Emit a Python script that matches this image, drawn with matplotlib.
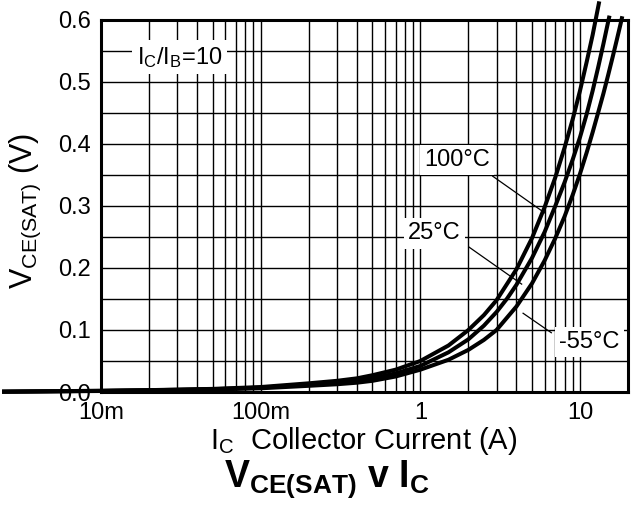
import matplotlib
matplotlib.use('Agg')
import matplotlib.pyplot as plt
from matplotlib.ticker import FixedLocator, NullFormatter, MultipleLocator, FixedFormatter

plt.rcParams['font.family'] = ['Liberation Sans', 'DejaVu Sans']
plt.rcParams['mathtext.fontset'] = 'custom'
plt.rcParams['mathtext.rm'] = 'Liberation Sans'
plt.rcParams['mathtext.it'] = 'Liberation Sans'
plt.rcParams['mathtext.bf'] = 'Liberation Sans:bold'

# collector current (A) and V_CE(sat) (V)
ic_100 = [0.0024, 0.01, 0.02, 0.05, 0.1, 0.2, 0.3, 0.4, 0.5, 0.7, 1, 1.5, 2, 2.5, 3, 4, 5, 6,
          7, 8, 9, 10, 11, 12, 13.2]
vce_100 = [0.0005, 0.002, 0.003, 0.005, 0.008, 0.014, 0.018, 0.022, 0.027, 0.036, 0.050, 0.075,
           0.100, 0.124, 0.148, 0.198, 0.248, 0.298, 0.346, 0.394, 0.440, 0.486, 0.532, 0.576,
           0.630]

ic_25 = [0.0024, 0.01, 0.02, 0.05, 0.1, 0.2, 0.3, 0.4, 0.5, 0.7, 1, 1.5, 2, 2.5, 3, 3.5, 4, 5,
         6, 7, 8, 9, 10, 11, 12, 13, 14, 15, 15.3]
vce_25 = [0.0005, 0.0018, 0.0028, 0.0045, 0.007, 0.012, 0.015, 0.018, 0.022, 0.030, 0.042,
          0.064, 0.085, 0.107, 0.129, 0.151, 0.173, 0.216, 0.258, 0.300, 0.338, 0.375, 0.411,
          0.448, 0.486, 0.524, 0.561, 0.597, 0.607]

ic_m55 = [0.0024, 0.01, 0.02, 0.05, 0.1, 0.2, 0.3, 0.4, 0.5, 0.7, 1, 1.5, 2, 2.5, 3, 4, 5, 6,
          7, 8, 9, 10, 11, 12, 13, 14, 15, 16, 17, 18, 18.4]
vce_m55 = [0.0005, 0.0016, 0.0025, 0.004, 0.006, 0.010, 0.0125, 0.015, 0.018, 0.025, 0.036,
           0.052, 0.068, 0.084, 0.100, 0.138, 0.175, 0.212, 0.248, 0.283, 0.318, 0.352, 0.386,
           0.419, 0.451, 0.481, 0.511, 0.540, 0.568, 0.595, 0.606]

x_ticks = [0.01, 0.1, 1, 10]
x_tick_labels = ['10m', '100m', '1', '10']
y_ticks = [0.0, 0.1, 0.2, 0.3, 0.4, 0.5, 0.6]

fig = plt.figure(figsize=(6.37, 5.19), dpi=100)
ax = fig.add_axes([0.1586, 0.2447, 0.8274, 0.7168])

for ic, vce in [(ic_100, vce_100), (ic_25, vce_25), (ic_m55, vce_m55)]:
    ax.plot(ic, vce, color='black', lw=2.9, clip_on=False, zorder=4, solid_capstyle='butt')

ax.set_xscale('log')
ax.set_xlim(0.01, 20)
ax.set_ylim(0, 0.6)

ax.xaxis.set_major_locator(FixedLocator(x_ticks))
ax.xaxis.set_major_formatter(FixedFormatter(x_tick_labels))
ax.xaxis.set_minor_locator(FixedLocator([m * d for d in [0.01, 0.1, 1, 10] for m in range(2, 10)]))
ax.xaxis.set_minor_formatter(NullFormatter())
ax.yaxis.set_major_locator(FixedLocator(y_ticks))
ax.yaxis.set_major_formatter(FixedFormatter(['%.1f' % v for v in y_ticks]))
ax.yaxis.set_minor_locator(MultipleLocator(0.05))

ax.grid(True, which='both', color='black', lw=1.0)
ax.set_axisbelow(True)
ax.tick_params(which='both', length=0, labelsize=17)
ax.tick_params(axis='y', pad=7)
ax.tick_params(axis='x', pad=7)
for s in ax.spines.values():
    s.set_linewidth(2.2)

fig.text(0.040, 0.593, '$\\mathregular{V_{CE(SAT)}}$ (V)', fontsize=22, rotation=90,
         ha='center', va='center')

box = dict(facecolor='white', edgecolor='none', pad=3)
ax.text(0.031, 0.540, '$\\mathregular{I_C/I_B}$=10', fontsize=17, ha='center', va='center',
        bbox=box, zorder=5)
ax.text(1.70, 0.374, '100°C', fontsize=17, ha='center', va='center', bbox=box, zorder=5)
ax.text(1.22, 0.256, '25°C', fontsize=17, ha='center', va='center', bbox=box, zorder=5)
ax.text(11.4, 0.081, '-55°C', fontsize=17, ha='center', va='center', bbox=box, zorder=5)

ax.plot([2.84, 6.0], [0.348, 0.289], color='black', lw=0.9, zorder=3)
ax.plot([2.01, 4.31], [0.234, 0.174], color='black', lw=0.9, zorder=3)
ax.plot([6.61, 4.40], [0.0956, 0.127], color='black', lw=0.9, zorder=3)

fig.text(0.571, 0.151, '$\\mathregular{I_C}$  Collector Current (A)', fontsize=21,
         ha='center', va='center')
fig.text(0.513, 0.076, '$\\mathbf{V_{CE(SAT)}}$ v I$\\mathbf{_C}$', fontsize=27,
         fontweight='bold', ha='center', va='center')

fig.savefig('out.png', dpi=100)
